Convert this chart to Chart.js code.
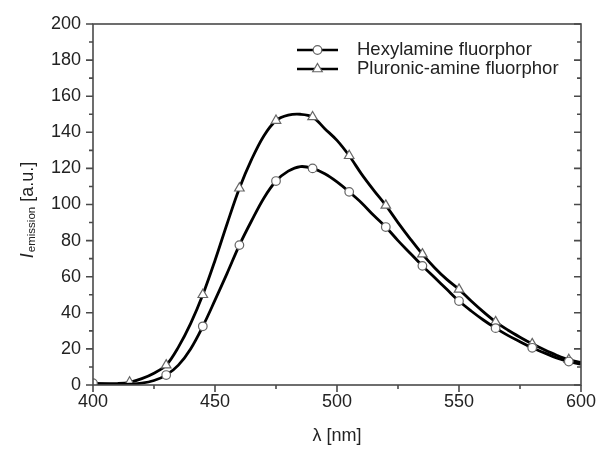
<!DOCTYPE html>
<html>
<head>
<meta charset="utf-8">
<script src="https://cdn.jsdelivr.net/npm/chart.js@4"></script>
<style>
html,body{margin:0;padding:0;background:#fff;}
#wrap{width:598px;height:450px;position:relative;}
</style>
</head>
<body>
<div id="wrap"><canvas id="c" width="598" height="450"></canvas></div>
<script>
// ---- data ----
const wavelengths = [400,405,410,415,420,425,430,435,440,445,450,455,460,465,470,475,480,485,490,495,500,505,510,515,520,525,530,535,540,545,550,555,560,565,570,575,580,585,590,595,600];
const hexylamine = [1,0.5,0.4,0.5,1,2.5,5.5,11,20,32.5,47,62,77.5,91,103.5,113,118.5,121,120,117,112.5,107,101,94,87.5,80,73,66,59.5,53,46.5,41,36,31.5,27.5,24,20.6,17.8,15,13,11.5];
const pluronic = [0.8,0.7,0.8,1.5,3.5,6.5,11,21,34,50,69,89.5,109,125,138,146.5,149.5,150,148.5,142,135.5,127,117,108,99.5,90,81,72.5,65,58.5,53,46.5,40.5,35,30.5,26.5,22.8,19.5,16.5,14,12.5];
const hexylMarkers = [400,430,445,460,475,490,505,520,535,550,565,580,595];
const pluronicMarkers = [415,430,445,460,475,490,505,520,535,550,565,580,595];
const seriesLabels = ["Hexylamine fluorphor","Pluronic-amine fluorphor"];
const xTicks = [400,450,500,550,600];
const xMinorTicks = [425,475,525,575];
const yTicks = [0,20,40,60,80,100,120,140,160,180,200];
const yMinorTicks = [10,30,50,70,90,110,130,150,170,190];
const xTitle = "λ [nm]";
const yTitleMain = "I", yTitleSub = "emission", yTitleRest = " [a.u.]";

const FONT = "'Liberation Sans', Arial, Helvetica, sans-serif";
const AXIS = "#4a4a4a";

function pts(ys){ return wavelengths.map((x,i)=>({x:x,y:ys[i]})); }

const frameTicks = {
  id:'frameTicks',
  afterDatasetsDraw(chart){
    const {ctx, chartArea:a, scales:{x,y}} = chart;
    ctx.save();
    ctx.strokeStyle = AXIS; ctx.lineWidth = 1.6; ctx.lineCap='butt';
    ctx.strokeRect(a.left, a.top, a.right-a.left, a.bottom-a.top);
    ctx.beginPath();
    xTicks.forEach(v=>{const p=x.getPixelForValue(v); ctx.moveTo(p,a.bottom); ctx.lineTo(p,a.bottom+7);});
    xMinorTicks.forEach(v=>{const p=x.getPixelForValue(v); ctx.moveTo(p,a.bottom); ctx.lineTo(p,a.bottom+4);});
    yTicks.forEach(v=>{const p=y.getPixelForValue(v); ctx.moveTo(a.left-7,p); ctx.lineTo(a.left,p); ctx.moveTo(a.right,p); ctx.lineTo(a.right-7,p);});
    yMinorTicks.forEach(v=>{const p=y.getPixelForValue(v); ctx.moveTo(a.left-4,p); ctx.lineTo(a.left,p); ctx.moveTo(a.right,p); ctx.lineTo(a.right-4,p);});
    ctx.stroke();
    ctx.restore();
  },
  afterDraw(chart){
    const {ctx, chartArea:a} = chart;
    // y title with subscript
    ctx.save();
    ctx.fillStyle = "#222";
    ctx.translate(33, (a.top+a.bottom)/2 + 6);
    ctx.rotate(-Math.PI/2);
    ctx.textBaseline = 'alphabetic';
    const f1 = "italic 18px "+FONT, f2 = "11.5px "+FONT, f3 = "18px "+FONT;
    ctx.font=f1; const w1=ctx.measureText(yTitleMain).width;
    ctx.font=f2; const w2=ctx.measureText(yTitleSub).width;
    ctx.font=f3; const w3=ctx.measureText(yTitleRest).width;
    let sx = -(w1+w2+w3)/2;
    ctx.font=f1; ctx.fillText(yTitleMain, sx, 0); sx+=w1+1;
    ctx.font=f2; ctx.fillText(yTitleSub, sx, 2); sx+=w2;
    ctx.font=f3; ctx.fillText(yTitleRest, sx, 0);
    ctx.restore();
    // legend
    ctx.save();
    const rows = [50, 69];
    chart.data.datasets.forEach((ds,i)=>{
      const yy = rows[i];
      ctx.strokeStyle = ds.borderColor; ctx.lineWidth = 2.6;
      ctx.beginPath(); ctx.moveTo(297,yy); ctx.lineTo(338,yy); ctx.stroke();
      ctx.fillStyle='#fff'; ctx.strokeStyle='#666'; ctx.lineWidth=1.2;
      ctx.beginPath();
      if(ds.pointStyle==='triangle'){
        const r=5.5; ctx.moveTo(317.5,yy-r); ctx.lineTo(317.5+r*0.87,yy+r*0.5); ctx.lineTo(317.5-r*0.87,yy+r*0.5); ctx.closePath();
      } else { ctx.arc(317.5,yy,4.3,0,Math.PI*2); }
      ctx.fill(); ctx.stroke();
      ctx.fillStyle="#222"; ctx.font="18.5px "+FONT; ctx.textBaseline='middle';
      ctx.fillText(ds.label, 357, yy);
    });
    ctx.restore();
  }
};

function markerRadius(list, r){ return ctx => (ctx.raw && list.includes(ctx.raw.x)) ? r : 0; }

new Chart(document.getElementById('c'), {
  type:'line',
  data:{datasets:[
    {label:seriesLabels[0], data:pts(hexylamine), borderColor:'#000', borderWidth:2.8, tension:0.35,
     pointStyle:'circle', pointRadius:markerRadius(hexylMarkers,4.3), pointBackgroundColor:'#fff', pointBorderColor:'#666', pointBorderWidth:1.2, pointHoverRadius:0},
    {label:seriesLabels[1], data:pts(pluronic), borderColor:'#000', borderWidth:2.8, tension:0.35,
     pointStyle:'triangle', pointRadius:markerRadius(pluronicMarkers,5.5), pointBackgroundColor:'#fff', pointBorderColor:'#666', pointBorderWidth:1.2, pointHoverRadius:0}
  ]},
  options:{
    responsive:false, animation:false, devicePixelRatio:1,
    layout:{padding:{left:0,right:17,top:24,bottom:0}},
    plugins:{legend:{display:false}, tooltip:{enabled:false}},
    scales:{
      x:{type:'linear', min:400, max:600,
        afterFit(s){s.height=65; s.paddingLeft=0; s.paddingRight=0;},
        grid:{display:false, drawTicks:false}, border:{display:false},
        ticks:{stepSize:50, padding:6, color:'#222', font:{family:FONT,size:18}, maxRotation:0},
        title:{display:true, text:xTitle, color:'#222', font:{family:FONT,size:18}, padding:{top:0,bottom:3}}},
      y:{type:'linear', min:0, max:200,
        afterFit(s){s.width=93; s.paddingTop=0; s.paddingBottom=0;},
        grid:{display:false, drawTicks:false}, border:{display:false},
        ticks:{stepSize:20, padding:12, color:'#222', font:{family:FONT,size:18}}}
    }
  },
  plugins:[frameTicks]
});
</script>
</body>
</html>
